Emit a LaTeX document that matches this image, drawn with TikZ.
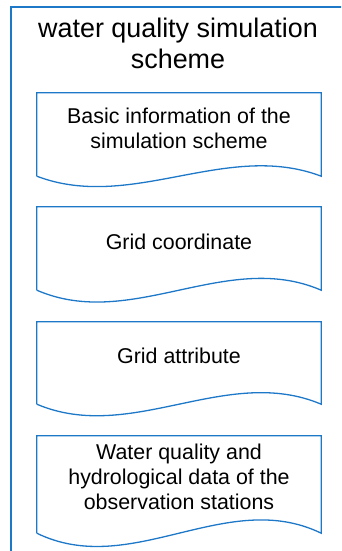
\documentclass[tikz,border=0pt]{standalone}
\usepackage{fontspec}
\setmainfont{Liberation Sans}
\usetikzlibrary{calc}
\definecolor{frameblue}{RGB}{30,120,200}
\tikzset{
  blueline/.style={draw=frameblue, line width=1.3pt, line join=miter},
  docarea/.style={rectangle, inner sep=0pt, minimum width=284pt},
  boxtext/.style={anchor=base, align=center, inner sep=0pt, font=\fontsize{21.4}{25}\selectfont},
  titletext/.style={anchor=base, align=center, inner sep=0pt, font=\fontsize{26.9}{31}\selectfont}
}
\newcommand{\docoutline}[2]{%
  \draw[blueline] (#1.south west) -- (#1.north west) -- (#1.north east) -- (#1.south east)
    .. controls ($(#1.south east)+(-94.7,-#2)$) and ($(#1.south west)+(94.7,#2)$) .. (#1.south west);
}
\begin{document}
\begin{tikzpicture}[x=1pt,y=-1pt]
\useasboundingbox (0,0) rectangle (341,551);
\begin{scope}
\clip (0,0) rectangle (341,551);
\draw[blueline] (11,570) -- (11,7) -- (360,7);
\end{scope}
\node[titletext] (title) at (178,68) {water quality simulation\\scheme};

\node[docarea, minimum height=83pt] (b1) at (179,134.5) {};
\docoutline{b1}{36}
\node[boxtext] (t1) at (179,148) {Basic information of the\\simulation scheme};

\node[docarea, minimum height=83pt] (b2) at (179,248.5) {};
\docoutline{b2}{41}
\node[boxtext] (t2) at (179,249) {Grid coordinate};

\node[docarea, minimum height=82pt] (b3) at (179,363) {};
\docoutline{b3}{40}
\node[boxtext] (t3) at (179,363) {Grid attribute};

\node[docarea, minimum height=97pt] (b4) at (179,484.5) {};
\docoutline{b4}{46}
\node[boxtext] (t4) at (179,509) {Water quality and\\hydrological data of the\\observation stations};
\end{tikzpicture}
\end{document}
